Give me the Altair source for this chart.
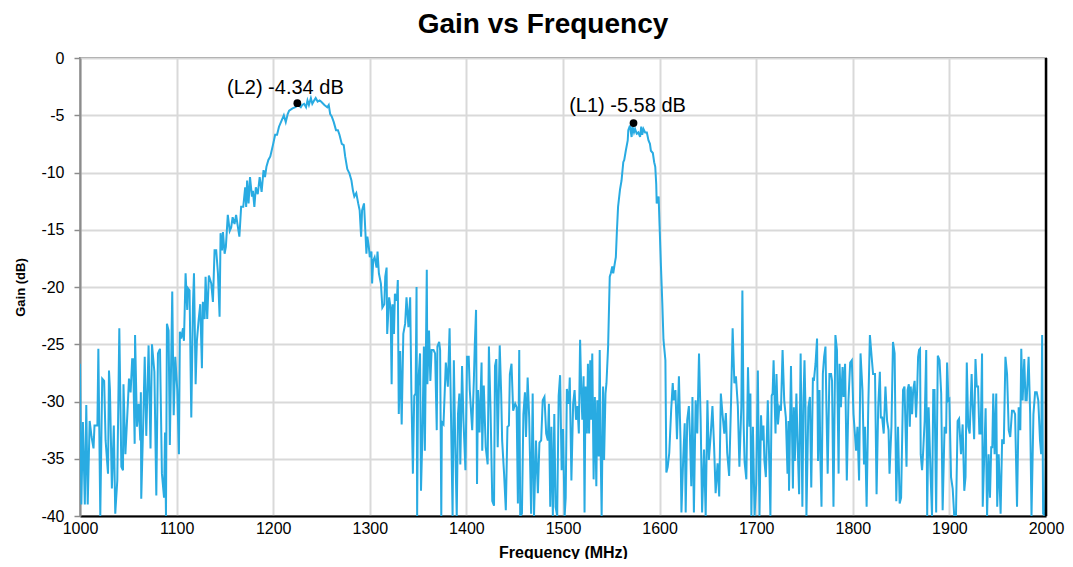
import altair as alt
import pandas as pd

freq_a = [1000, 1001.4, 1003, 1005, 1006.5, 1008, 1010, 1012, 1014, 1015, 1018, 1019, 1021, 1023, 1025, 1026.5,
          1029, 1030, 1031, 1033, 1035, 1036.5, 1038.6, 1040.7, 1042.8, 1044.5, 1045, 1047, 1049.7, 1050.7, 1052.4,
          1054, 1055, 1056.6, 1057, 1059, 1060.7, 1062.4, 1063, 1063.4, 1065.5, 1067, 1068.6, 1071, 1073, 1074.5,
          1077, 1079, 1080.7, 1082.8, 1084.8, 1087, 1088, 1089, 1090, 1091.7, 1093, 1095.5, 1097, 1098.6, 1100.7,
          1102.4, 1103.4, 1104.8, 1106.6, 1107.6, 1109.3, 1111, 1111.7, 1113.4, 1115.2, 1116.9, 1118, 1119.7, 1121,
          1122.8, 1124.5, 1126.2, 1127.2, 1129, 1130, 1131.7, 1133.4, 1135.9, 1137.6, 1139.3]
gain_a = [-26.7, -39, -31.8, -39, -30.3, -39, -31.7, -33.1, -34.1, -32.1, -32.1, -25.4, -40, -28, -28.2, -33.4,
          -36.3, -27.3, -29, -37.6, -32.1, -39.8, -36.9, -23.6, -35.7, -36, -28.5, -34.6, -29.9, -28, -29.2,
          -26.3, -26.3, -33.7, -24.2, -32.2, -30.2, -33.4, -29.2, -38.5, -31.7, -26.1, -33, -25.1, -34.1, -25,
          -27.4, -38.2, -25.8, -25.4, -36.3, -38.4, -32.7, -40, -23.2, -23.8, -33.8, -20.4, -31.2, -26.1, -29,
          -34.6, -23.9, -24.5, -23.6, -24.7, -18.8, -22, -20.1, -20.3, -31.4, -21.7, -18.8, -28.5, -24.7,
          -22.9, -21.5, -27.1, -21.3, -22.8, -19.1, -22.8, -19, -19.7, -21.3, -16.8]

freq_b = [1141, 1142.8, 1144.5, 1145.5, 1147, 1148, 1149.7, 1151, 1153, 1155, 1156.5, 1158, 1160, 1161.6, 1163,
          1165, 1166.8, 1169, 1171, 1172, 1173, 1174.5, 1176, 1178, 1179, 1180.5, 1182, 1184, 1186, 1188, 1190,
          1191.5, 1193, 1195, 1197, 1200, 1202, 1204, 1206, 1209, 1211, 1213, 1215, 1216.5, 1220, 1223, 1226,
          1228.6, 1230, 1232, 1234, 1235.5, 1237, 1239, 1240.5, 1242.5, 1244, 1246, 1248, 1249.5, 1253, 1256,
          1257.5, 1259, 1260.6, 1262.7, 1265, 1267, 1268.6, 1271, 1273, 1274.5, 1276.7, 1279, 1281, 1282.6, 1284,
          1286, 1288, 1289.5, 1291, 1292, 1294, 1295.5, 1296.5, 1297.5, 1299, 1300, 1301.7, 1302.4, 1303.5, 1305,
          1307, 1308, 1309.4, 1311.5, 1313, 1315, 1316, 1317.4, 1318, 1320, 1321.5, 1322.6, 1323.6, 1325, 1326,
          1328, 1329, 1330, 1331.5, 1333, 1334.7, 1336.6, 1338, 1340, 1341.8]
gain_b = [-16.8, -18.8, -22.6, -15.3, -16.8, -15.2, -17.1, -16.5, -13.7, -15.1, -14.8, -13.9, -14.5, -13.7, -14.5,
          -15.6, -13, -13, -11.3, -13, -10.7, -12.7, -10.4, -12.1, -11.6, -13, -11.3, -11.9, -10.4, -11.7, -9.8,
          -10.4, -9.5, -8.9, -8.6, -7.5, -6.7, -6.7, -6, -5.4, -5, -5.6, -4.9, -4.6, -4.4, -4.3, -4.1,
          -4.3, -4.1, -4, -4.3, -3.7, -4.1, -3.5, -4, -3.7, -3.5, -3.8, -3.7, -3.8, -4.1, -4.3,
          -4.1, -4.9, -5.1, -5.6, -6.3, -6.3, -6.7, -7.5, -7.6, -8.6, -9.7, -10.1, -10.7, -11.6, -12.1,
          -11.8, -12.7, -13.3, -15.6, -13.3, -12.7, -15.3, -17.1, -15.6, -16.5, -17.4, -16.9, -19.7, -17.7, -17.4,
          -18.3, -16.9, -18.8, -19.7, -21.8, -21.5, -19.1, -18.3, -24.1, -20.9, -21.8, -28.5, -21.5, -24.1, -20.6,
          -21.2, -19.4, -31.1, -25.6, -32, -24.1, -23.2, -20.9, -23.5, -20.9]

freq_c = [1343, 1344.6, 1346, 1347.4, 1348.4, 1349, 1350, 1352, 1353, 1354.4, 1356, 1357, 1359, 1359.6, 1361.3,
          1362.7, 1364, 1366, 1367.6, 1369.3, 1370, 1371.8, 1372.8, 1374, 1374.6, 1376.3, 1378.7, 1380.8, 1382.6,
          1384, 1385.7, 1387, 1388.5, 1390, 1391.3, 1392.7, 1393.7, 1395.5, 1397, 1399, 1400.7, 1402.4, 1403.5,
          1405, 1406, 1407.7, 1408.7, 1410, 1411, 1412, 1413.6, 1415.7, 1416.4, 1418, 1420, 1422, 1423.3, 1425,
          1426.8, 1428.6, 1429.6, 1431, 1432.4, 1434.5, 1436, 1437, 1439, 1440.8, 1442.5, 1444, 1445, 1446.7,
          1448.4, 1450.5, 1452, 1453.3, 1454.7, 1455.7, 1457.5, 1459, 1460.6, 1461.7, 1463.4, 1465, 1467, 1468.6,
          1470, 1472, 1474, 1475.6, 1477.4, 1479, 1480.8, 1482.6, 1484.3, 1485.4, 1486.8, 1488, 1489.5, 1491,
          1492.3, 1494, 1495.5, 1497, 1498.6, 1500, 1501.7, 1502.8, 1504, 1506, 1507, 1508.7, 1510.5]
gain_c = [-29, -36.3, -29.5, -29.3, -20, -40, -28.7, -25.8, -37.8, -33.1, -25.2, -34.3, -18.5, -28.5, -23.8,
          -28.2, -25.5, -25.5, -25.8, -32.5, -25.2, -24.8, -25.5, -40, -31.8, -32, -26.6, -28.7, -23.6,
          -30.9, -40, -26.4, -34, -40, -31.1, -29.3, -35.5, -26.9, -31.7, -36, -26.1, -26.1, -29,
          -31.1, -32.5, -28.2, -25, -22, -37.2, -29, -32.7, -26.6, -34.3, -28.6, -34, -35.5, -25.2, -30.8,
          -38.7, -39.1, -26.9, -26.3, -34, -25.1, -29.3, -33.4, -36.3, -39.5, -32.2, -32.1, -27.6, -26.7,
          -30.8, -30.2, -30.5, -38.9, -25.5, -40, -39.8, -31.1, -29.2, -33.1, -27.9, -31.4, -39.8, -29.3,
          -40, -33.4, -38, -33.6, -33.4, -29.9, -29.6, -32.8, -33.4, -30.2, -39.2, -32.2, -40, -31.1,
          -39.2, -40, -29.5, -27.7, -36, -32.4, -40, -38.4, -28.9, -30.2, -27.9, -36.9, -30.2]

freq_d = [1512, 1513.5, 1515, 1516.4, 1517.7, 1518.8, 1520, 1521.3, 1522.3, 1523.3, 1524.7, 1525.8, 1527, 1528.2,
          1529, 1530.3, 1531.7, 1533, 1534.5, 1535.5, 1537, 1538, 1539, 1540, 1541.5, 1542.5, 1544, 1545, 1546.7,
          1548.4, 1549.5, 1551, 1552, 1553.7, 1554.7, 1555.7, 1557, 1559, 1560.6, 1562.4, 1563.4, 1565, 1567,
          1567.6, 1569.3, 1571, 1572, 1573.5, 1574.6, 1576.3, 1578, 1579.8, 1581, 1582, 1583.3, 1585, 1586.8,
          1588.5, 1590, 1591, 1593, 1594.4, 1595.5, 1596.5, 1597, 1598, 1599, 1600, 1601.4, 1602.8, 1604, 1606,
          1607, 1608.4, 1610, 1612, 1613.6, 1614.6, 1616.4, 1618, 1620, 1621.6, 1622.6, 1624.4, 1626, 1627,
          1628.6, 1630.3, 1631.4, 1632.8, 1634, 1635.5, 1637.3, 1639, 1640.8, 1642.5, 1644, 1646, 1647.7, 1649.5,
          1651, 1653, 1654.7, 1656.4, 1658, 1660, 1661.7, 1663.4, 1665, 1667, 1668.6, 1670, 1672, 1674, 1675.6,
          1677.4, 1679, 1681, 1682.6]
gain_d = [-29, -31.6, -30.4, -32.8, -24.6, -28.7, -31.6, -27.8, -39.7, -28.7, -32.8, -26.7, -32.8, -26.4,
          -31.6, -25.8, -36.8, -29.6, -37.4, -29.9, -34.8, -25.5, -34.5, -40, -28.7, -35.1, -29.3, -28.4, -25.2,
          -19.1, -18.8, -18.2, -18.8, -17.9, -17.4, -15.3, -13, -11.5, -10.7, -9.1, -8.9, -8.1, -7.2,
          -6.3, -5.9, -6.9, -6, -6.5, -6.2, -6.6, -6.5, -6.9, -6, -6.7, -6.2, -6.5, -6.5,
          -7.2, -7.5, -8.1, -8.3, -9.1, -9.5, -11, -12.7, -12.4, -12.1, -14.7, -18.2, -21.4, -24.6, -26.4,
          -36.2, -35.7, -34.5, -30.7, -28.4, -29.9, -29, -33.3, -27.8, -33.3, -39.7, -35.1, -31.9, -39.7,
          -31.6, -30.4, -33, -37.4, -29.6, -39.7, -29.9, -32.8, -25.8, -31.6, -39.7, -34.2, -40, -29.9,
          -35.1, -32.8, -30.4, -33.9, -38, -35.4, -38.3, -29.3, -31, -32.8, -31, -34.5, -36.5, -29.9, -23.6,
          -28.4, -27.8, -30.4, -35.7]

freq_e = [1684.6, 1685.7, 1687, 1688, 1689.8, 1691.5, 1693, 1694, 1695, 1696.6, 1698.3, 1700, 1701.7, 1703.4,
          1705, 1706, 1707.5, 1708.5, 1710, 1712, 1713.7, 1714.7, 1716, 1717, 1718, 1720, 1721, 1722.5, 1724,
          1725.6, 1727.3, 1729, 1730.7, 1732.4, 1733.4, 1734, 1736, 1737, 1738, 1739, 1740, 1741.6, 1742.7,
          1744.4, 1746, 1747.8, 1749, 1750, 1751, 1752, 1754, 1755.6, 1757, 1758.7, 1759.7, 1761.4, 1763, 1764,
          1765.5, 1766.5, 1767.6, 1769, 1770.3, 1771.7, 1772.7, 1774, 1775.8, 1777.5, 1778.5, 1780, 1782, 1783.6,
          1785.3, 1786.3, 1787.7, 1789.4, 1790.4, 1792, 1793.8, 1795.5, 1797.3, 1799, 1800.7, 1802.4, 1803.4,
          1804.8, 1806.5, 1808, 1810, 1811.6, 1812.6, 1814.3, 1816, 1817.7, 1819.5, 1821, 1823, 1824.6, 1826.3,
          1828, 1829, 1830.4, 1832, 1833.8, 1835.5, 1837, 1838, 1840, 1841.6, 1843.3, 1845, 1846.8, 1848.5, 1850,
          1852, 1853.5]
gain_e = [-30.5, -20.3, -32, -35.3, -36.8, -27, -32.2, -29.3, -40, -32.2, -40, -37.2, -27.3, -40,
          -31.2, -33.4, -32.1, -35.2, -36.6, -29.9, -36, -40, -29.5, -29.3, -26.4, -32.8, -27.6, -32, -30.5,
          -30.8, -25.5, -29.9, -31.4, -36.3, -31.7, -37.8, -26.9, -32.2, -37.6, -30.5, -35.2, -29.3, -33.1,
          -38.1, -25.8, -39.2, -29.6, -26.4, -30.5, -40, -30.5, -29.6, -37.5, -27.9, -28.2, -26.7, -24.5, -35.2,
          -29, -35.2, -39.2, -27.6, -26.1, -25.2, -30.5, -36.3, -27.6, -27.6, -28.2, -39.2, -24.2, -25.5,
          -36.3, -26.7, -30.5, -27, -29.6, -26.7, -36.9, -29.9, -26.6, -26.4, -31.1, -33.1, -34.3,
          -32.2, -36.9, -25.8, -29, -35.5, -32.2, -39.2, -30.5, -24.2, -26.1, -27.6, -27.6, -38.1, -30.5,
          -27.4, -31.4, -31.4, -32.8, -28.7, -31.7, -32.5, -36.3, -32.2, -24.8, -25.8, -38.7, -32.2, -38.9, -38.4,
          -29, -28.7]

freq_f = [1855.6, 1856.7, 1858, 1859, 1860, 1861.4, 1862.5, 1864, 1865.5, 1866.5, 1867.6, 1868.6, 1869.6, 1870.3,
          1871.7, 1872.7, 1874.4, 1876, 1877, 1878.5, 1880.5, 1882, 1883.3, 1884.6, 1886.3, 1888, 1889.8, 1891.5,
          1893, 1895, 1896.6, 1897.6, 1899, 1900, 1901.7, 1903.4, 1905, 1906.8, 1908.5, 1910, 1912, 1913.7,
          1915.4, 1916.7, 1918, 1919.5, 1921, 1923, 1924, 1925.6, 1927, 1928.3, 1929.7, 1931, 1932.4, 1933.8,
          1934.5, 1935.8, 1937.5, 1939, 1940.6, 1942, 1943.3, 1944.4, 1945.4, 1946.8, 1948.5, 1949.5, 1951, 1953,
          1954.6, 1956.3, 1958, 1959.7, 1961.4, 1963, 1964.8, 1966.5, 1968, 1970, 1971.7, 1973.4, 1974.4, 1975.8,
          1977.5, 1978.8, 1980, 1982, 1983.6, 1985, 1987, 1988.7, 1990.4, 1992, 1993.8, 1995, 1996, 1997, 1999,
          2000]
gain_f = [-35.7, -29, -28.5, -32.2, -28.7, -31.1, -29, -28.2, -31.4, -29.3, -26.1, -25.5, -25.4, -34.6,
          -36, -34.6, -31.7, -25.5, -40, -30.5, -36.3, -40, -29, -29, -39.7, -26, -26.4, -29.3,
          -39.5, -32.2, -32.8, -26.6, -29.9, -29.8, -36.6, -37.6, -40, -40, -31.7, -31.5, -34.6, -32,
          -37.8, -36.6, -26.6, -32.2, -32.8, -27.6, -30.2, -33.3, -26.3, -28.7, -28.7, -32.8, -32.8, -25.8,
          -39.2, -35.5, -30.6, -40, -34.6, -38.4, -34, -34, -29.3, -34.6, -29.3, -39.2, -34.6, -39.8,
          -33.3, -33.7, -26.1, -27.6, -32.5, -33.1, -30.8, -30.8, -31.1, -39.2, -30.5, -32.5, -25.4, -29.9,
          -26.3, -29.9, -29.9, -26.1, -31.1, -40, -31.1, -29.2, -29.2, -29.9, -33.4, -34.6, -24.2, -39.8, -40,
          -33.4]

# ---- markers ----
marker_freq = [1225, 1573]
marker_gain = [-3.95, -5.68]
marker_text = ["(L2) -4.34 dB", "(L1) -5.58 dB"]

x_ticks = list(range(1000, 2001, 100))
y_ticks = list(range(-40, 1, 5))

rows = []
for fs, gs in [(freq_a, gain_a), (freq_b, gain_b), (freq_c, gain_c),
               (freq_d, gain_d), (freq_e, gain_e), (freq_f, gain_f)]:
    for f, g in zip(fs, gs):
        rows.append({"i": len(rows), "freq": f, "gain": g})
df = pd.DataFrame(rows)
mk = pd.DataFrame({"freq": marker_freq, "gain": marker_gain, "label": marker_text})
edge = pd.DataFrame({"freq": [2000]})

FONT = "Liberation Sans"
x_scale = alt.Scale(domain=[1000, 2000], nice=False, zero=False)
y_scale = alt.Scale(domain=[-40, 0], nice=False, zero=False)

x_enc = alt.X("freq:Q", scale=x_scale, axis=alt.Axis(
    values=x_ticks, title="Frequency (MHz)", labelExpr="'' + datum.value",
    domainColor="#000000", domainWidth=2, ticks=False, labelPadding=4, labelFlush=False,
    titleFontSize=16, titlePadding=8, labelFontSize=16))
y_enc = alt.Y("gain:Q", scale=y_scale, axis=alt.Axis(
    values=y_ticks, title="Gain (dB)", labelExpr="'' + datum.value",
    domainColor="#8c8c8c", domainWidth=2, tickColor="#8c8c8c", tickSize=6, tickWidth=1.5,
    labelPadding=10, labelFlush=False, titleFontSize=13, titlePadding=13, labelFontSize=16))

line = alt.Chart(df).mark_line(color="#29ABE2", strokeWidth=2, clip=True).encode(
    x=x_enc, y=y_enc, order="i:Q")

dots = alt.Chart(mk).mark_circle(color="#000000", size=60, opacity=1).encode(
    x=alt.X("freq:Q", scale=x_scale), y=alt.Y("gain:Q", scale=y_scale))

lab_l2 = alt.Chart(mk).transform_filter(alt.datum.freq < 1400).mark_text(
    font=FONT, fontSize=20, color="#000000", dx=-12, dy=-15, align="center", baseline="middle"
).encode(x=alt.X("freq:Q", scale=x_scale), y=alt.Y("gain:Q", scale=y_scale), text="label:N")

lab_l1 = alt.Chart(mk).transform_filter(alt.datum.freq > 1400).mark_text(
    font=FONT, fontSize=20, color="#000000", dx=-6, dy=-17, align="center", baseline="middle"
).encode(x=alt.X("freq:Q", scale=x_scale), y=alt.Y("gain:Q", scale=y_scale), text="label:N")

right_edge = alt.Chart(edge).mark_rule(color="#000000", strokeWidth=2.5).encode(
    x=alt.X("freq:Q", scale=x_scale))

chart = alt.layer(line, dots, lab_l2, lab_l1, right_edge).properties(
    width=966, height=458,
    autosize=alt.AutoSizeParams(type="none"),
    padding={"left": 72, "top": 50, "right": 19, "bottom": 43},
    title=alt.TitleParams("Gain vs Frequency", font=FONT, fontSize=28, fontWeight="bold",
                          color="#000000", anchor="middle", dx=-20, offset=11),
).configure_view(
    stroke="#8c8c8c", strokeWidth=2
).configure_axis(
    grid=True, gridColor="#d9d9d9", gridWidth=2,
    labelFont=FONT, labelColor="#000000",
    titleFont=FONT, titleFontWeight="bold", titleColor="#000000"
)

chart.save("out.html", embed_options={"renderer": "svg", "actions": False})
